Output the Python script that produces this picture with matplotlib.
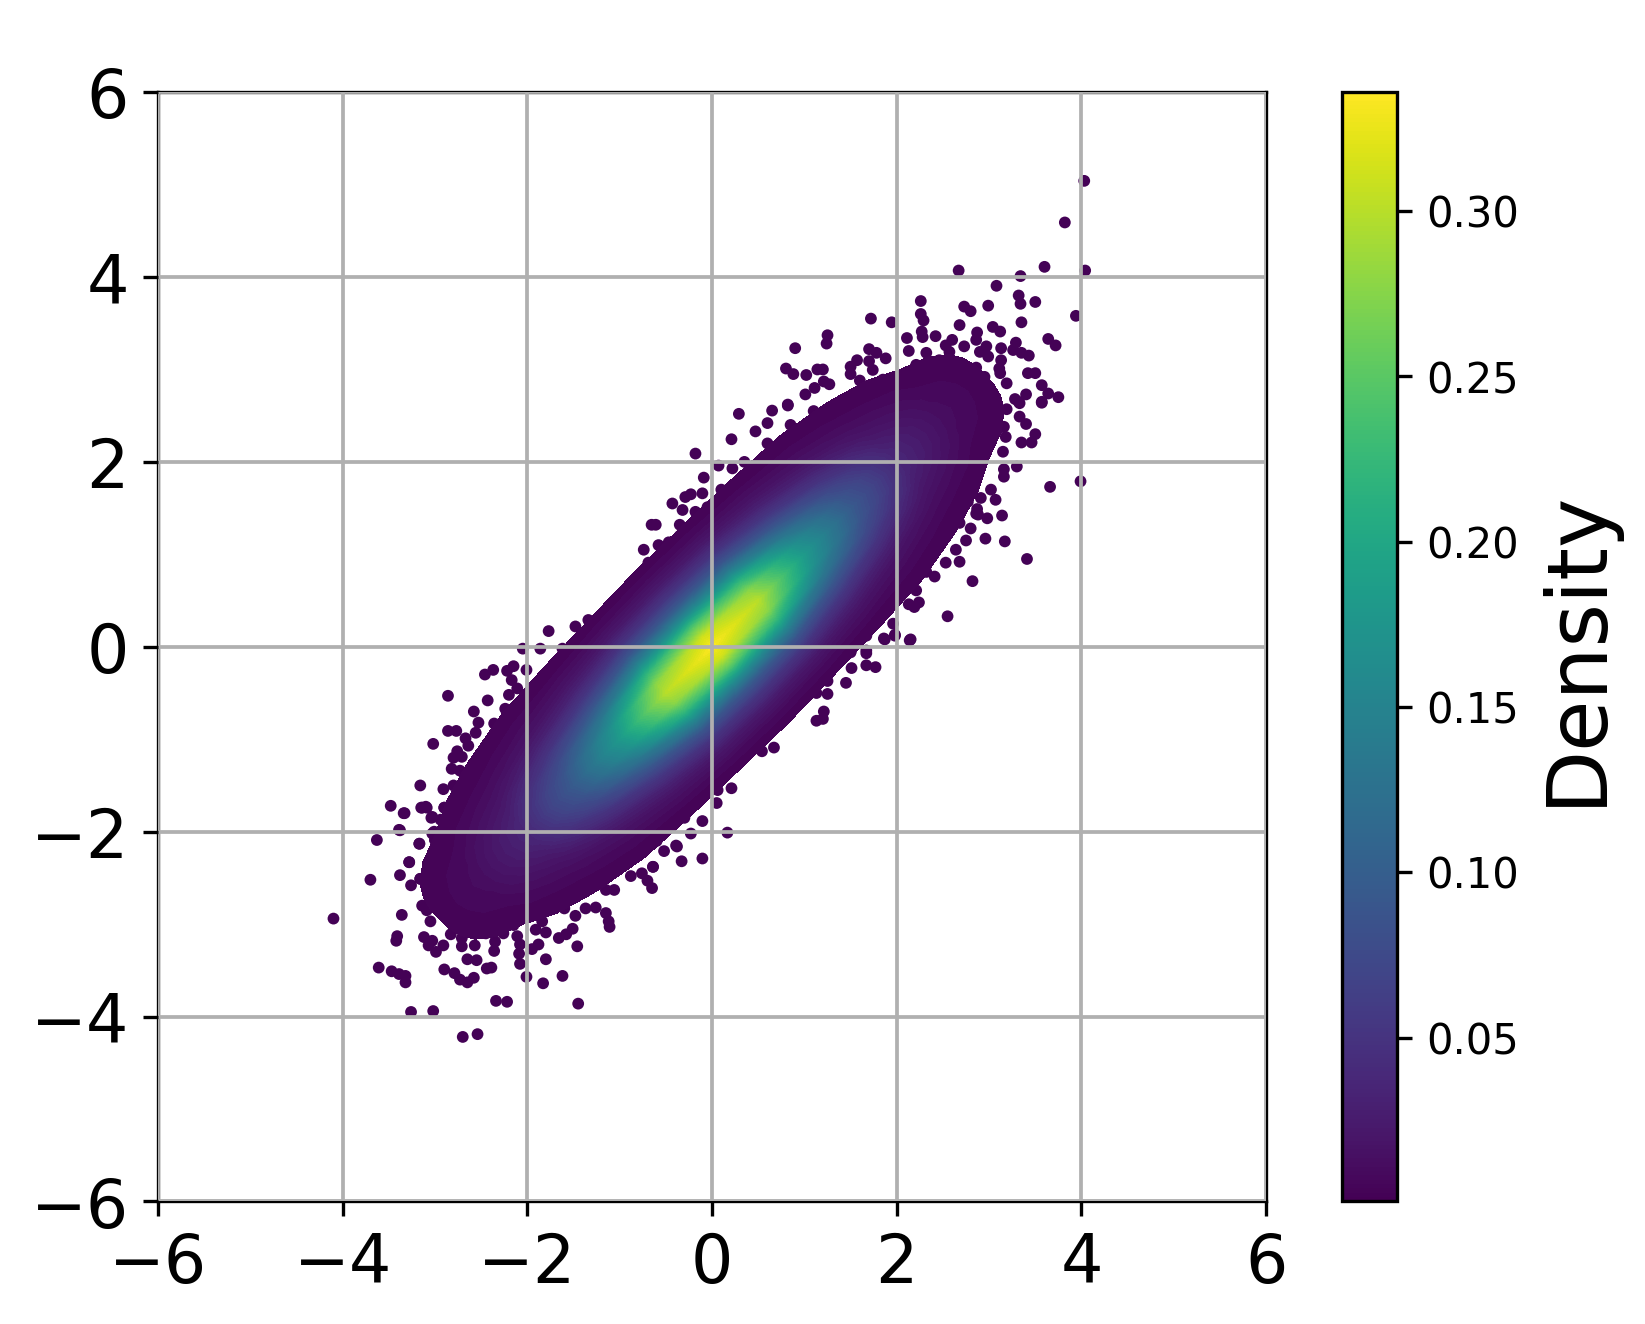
import numpy as np
import matplotlib
matplotlib.use('Agg')
import matplotlib.pyplot as plt
from matplotlib.colors import Normalize
from matplotlib.cm import ScalarMappable

# density read along the long axis (u) and across it (v), x = u - v, y = u + v
u_pos = [-3.5, -3.0, -2.5, -2.0, -1.5, -1.0, -0.5, 0.0, 0.5, 1.0, 1.5, 2.0, 2.5, 3.0, 3.5]
v_half = [0.0, 0.1, 0.2, 0.3, 0.4, 0.5, 0.6, 0.7, 0.8, 0.9, 1.0]
density_half = [
    [.0002, .0002, .0001, .0001, 0, 0, 0, 0, 0, 0, 0],
    [.0008, .0008, .0006, .0004, .0002, .0001, 0, 0, 0, 0, 0],
    [.011, .010, .0082, .0055, .0032, .0016, .0007, .0002, .0001, 0, 0],
    [.036, .034, .027, .019, .012, .0066, .0032, .0015, .0005, .0002, 0],
    [.095, .088, .071, .050, .031, .017, .0085, .0036, .0012, .0004, 0],
    [.180, .167, .133, .092, .056, .031, .015, .0058, .0018, .0006, .0001],
    [.300, .278, .222, .150, .088, .048, .023, .0085, .0020, .0005, .0001],
    [.335, .312, .250, .165, .095, .053, .026, .0100, .0022, .0006, .0001],
    [.300, .278, .222, .150, .088, .048, .023, .0085, .0020, .0005, .0001],
    [.180, .167, .133, .092, .056, .031, .015, .0058, .0018, .0006, .0001],
    [.095, .088, .071, .050, .031, .017, .0085, .0036, .0012, .0004, 0],
    [.036, .034, .027, .019, .012, .0066, .0032, .0015, .0005, .0002, 0],
    [.011, .010, .0082, .0055, .0032, .0016, .0007, .0002, .0001, 0, 0],
    [.0008, .0008, .0006, .0004, .0002, .0001, 0, 0, 0, 0, 0],
    [.0002, .0002, .0001, .0001, 0, 0, 0, 0, 0, 0, 0],
]

# single points around the dense part
edge_pts = [
    (4.03, 5.04), (3.82, 4.59), (2.67, 4.07), (3.60, 4.11), (4.04, 4.07), (3.34, 4.01), (3.08, 3.905),
    (3.32, 3.80), (3.34, 3.71), (3.50, 3.73), (3.94, 3.58), (2.26, 3.74), (2.26, 3.60), (2.29, 3.53),
    (1.72, 3.55), (1.945, 3.51), (1.25, 3.37), (1.24, 3.28), (0.90, 3.23), (2.73, 3.68), (2.80, 3.63),
    (2.99, 3.69), (2.68, 3.48), (3.35, 3.51), (3.04, 3.46), (3.12, 3.41), (3.64, 3.33), (3.72, 3.26),
    (2.27, 3.41), (2.11, 3.34), (2.42, 3.36), (2.28, 3.35), (2.60, 3.32), (2.87, 3.40), (2.53, 3.26),
    (2.73, 3.25), (2.86, 3.32), (2.97, 3.25), (3.13, 3.23), (3.29, 3.29), (3.26, 3.21), (3.43, 3.15),
    (3.35, 3.18), (2.90, 3.19), (2.99, 3.14), (3.13, 3.10), (3.11, 3.01), (3.12, 2.96), (2.86, 3.02),
    (2.95, 2.92), (3.42, 2.96), (3.50, 2.96), (3.19, 2.85), (3.57, 2.83), (3.64, 2.74), (3.75, 2.70),
    (3.40, 2.73), (3.57, 2.65), (3.28, 2.68), (3.32, 2.65), (1.70, 3.22), (1.78, 3.18), (1.57, 3.10),
    (1.70, 3.09), (1.50, 3.03), (1.50, 2.95), (1.74, 2.995), (0.80, 3.01), (0.88, 2.95), (1.02, 2.94),
    (1.14, 3.00), (1.20, 3.00), (1.21, 2.87), (1.27, 2.84), (1.11, 2.80), (1.01, 2.73), (0.82, 2.62),
    (1.60, 2.88), (1.85, 2.89), (2.13, 3.20), (2.32, 3.18), (1.88, 3.12), (2.21, 3.05), (2.46, 3.10),
    (2.57, 3.19),
    (0.29, 2.52), (0.65, 2.555), (0.82, 2.61), (0.21, 2.245), (0.47, 2.33), (0.60, 2.42), (-0.18, 2.09),
    (-0.09, 1.83), (0.07, 1.96), (0.22, 1.93), (-0.43, 1.55), (-0.32, 1.48), (-0.29, 1.62), (-0.23, 1.65),
    (-0.105, 1.66), (-0.655, 1.32), (-0.61, 1.32), (-0.35, 1.32), (-0.18, 1.46), (-0.05, 1.51),
    (-0.58, 1.10), (-0.47, 1.13), (-0.38, 1.16), (-0.74, 1.05), (-0.69, 0.91), (-0.72, 0.79),
    (2.82, 0.71), (2.55, 0.33), (2.15, 0.08), (1.86, 0.09), (1.98, 0.12), (1.96, 0.25), (2.24, 0.48),
    (2.19, 0.43), (2.13, 0.46), (2.21, 0.61), (2.68, 0.92), (2.53, 0.91), (2.64, 1.05), (2.41, 0.76),
    (2.32, 0.81), (2.10, 0.70), (2.75, 1.15), (2.80, 1.28), (2.68, 1.34), (2.86, 1.44), (2.75, 1.57),
    (1.77, 0.27), (1.67, 0.12), (1.67, -0.04), (1.50, -0.06), (1.34, -0.07),
    (3.99, 1.79), (3.66, 1.73), (3.30, 1.95), (3.16, 1.92), (3.16, 1.84), (3.07, 1.59), (3.14, 1.42),
    (2.98, 1.39), (2.88, 1.43), (2.87, 1.49), (2.96, 1.17), (3.17, 1.14), (3.41, 0.95), (3.57, 2.64),
    (3.33, 2.635), (3.19, 2.57), (3.33, 2.49), (3.40, 2.41), (3.50, 2.30), (3.46, 2.21), (3.35, 2.21),
    (3.16, 2.38), (3.18, 2.27), (3.15, 2.11), (3.02, 1.70), (2.91, 1.61), (2.77, 1.57),
    (-4.10, -2.94), (-3.70, -2.52), (-3.63, -2.09), (-3.48, -1.72), (-3.33, -1.80), (-3.38, -1.985),
    (-3.17, -2.13), (-3.28, -2.33), (-3.38, -2.47), (-3.16, -2.51), (-3.26, -2.58), (-3.14, -1.74),
    (-3.09, -1.74), (-2.90, -1.74), (-3.03, -1.84), (-3.00, -2.09), (-3.01, -2.00), (-2.97, -2.27),
    (-3.02, -2.46), (-3.06, -2.63), (-2.98, -2.64), (-2.92, -2.71), (-3.01, -2.76), (-3.14, -2.80),
    (-3.09, -2.85), (-3.36, -2.90), (-3.05, -2.97), (-3.41, -3.13), (-3.42, -3.18), (-3.12, -3.14),
    (-3.03, -3.18), (-3.07, -3.23), (-2.99, -3.30), (-2.91, -3.23), (-2.83, -3.11), (-2.87, -2.92),
    (-2.80, -2.94), (-2.89, -2.83), (-2.71, -3.15), (-2.71, -3.24), (-2.57, -3.23), (-2.65, -3.38),
    (-2.55, -3.39), (-2.36, -3.29), (-2.35, -3.19), (-2.44, -3.48), (-2.39, -3.47), (-2.90, -3.49),
    (-2.79, -3.53), (-2.73, -3.60), (-2.65, -3.63), (-2.58, -3.58), (-3.61, -3.47), (-3.47, -3.51),
    (-3.39, -3.54), (-3.32, -3.56), (-3.32, -3.63), (-3.26, -3.95), (-3.02, -3.94), (-2.70, -4.22),
    (-2.54, -4.19), (-2.34, -3.83), (-2.22, -3.84), (-1.45, -3.86), (-2.01, -3.57), (-1.83, -3.64),
    (-1.62, -3.56), (-1.80, -3.38), (-1.46, -3.24), (-2.08, -3.43), (-2.09, -3.32), (-2.08, -3.22),
    (-2.11, -3.13), (-1.95, -3.27), (-1.88, -3.22), (-1.80, -3.09), (-1.91, -3.06), (-1.98, -2.92),
    (-1.84, -2.97), (-1.66, -3.15), (-1.58, -3.11), (-1.51, -3.05), (-1.11, -3.03), (-1.12, -2.97),
    (-1.15, -2.88), (-1.48, -2.91), (-1.37, -2.83), (-1.26, -2.82), (-1.60, -2.83), (-1.15, -2.63),
    (-1.06, -2.63), (-0.88, -2.48), (-0.76, -2.45), (-0.65, -2.61), (-0.64, -2.38), (-0.70, -2.53),
    (-2.26, -3.10), (-2.15, -3.01), (-2.45, -3.10), (-2.58, -2.98), (-2.67, -2.87), (-2.62, -2.83),
    (-1.77, 0.17), (-2.05, -0.02), (-1.86, -0.02), (-1.62, -0.02), (-1.48, 0.22), (-1.34, 0.29),
    (-2.15, -0.21), (-2.37, -0.25), (-2.46, -0.30), (-2.22, -0.26), (-2.01, -0.25), (-2.17, -0.36),
    (-2.11, -0.45), (-2.20, -0.52), (-2.86, -0.53), (-2.43, -0.58), (-2.24, -0.67), (-2.58, -0.70),
    (-2.53, -0.82), (-2.36, -0.83), (-2.86, -0.91), (-2.77, -0.91), (-2.56, -0.93), (-2.67, -0.99),
    (-2.64, -1.07), (-3.02, -1.05), (-2.76, -1.13), (-2.80, -1.20), (-2.71, -1.19), (-2.53, -1.19),
    (-2.82, -1.32), (-2.73, -1.34), (-3.16, -1.50), (-2.91, -1.54), (-2.80, -1.50), (-3.15, -1.74),
    (-3.10, -1.73), (-2.90, -1.74), (-3.34, -1.80), (-3.04, -1.85), (-2.94, -1.87), (-3.39, -1.98),
    (-3.03, -2.02), (-3.00, -2.09), (-3.17, -2.13), (-3.28, -2.33), (-2.97, -2.27), (-3.16, -2.51),
    (-2.96, -2.42), (-2.85, -1.88), (-2.74, -1.66),
    (0.166, -2.01), (0.06, -1.55), (0.21, -1.53), (0.05, -1.69), (-0.105, -1.885), (-0.23, -2.02),
    (-0.105, -2.29), (-0.33, -2.32), (-0.52, -2.21), (-0.64, -2.38), (-0.39, -2.15),
    (2.14, 0.07), (1.98, 0.13), (1.87, 0.08), (1.67, 0.13), (1.77, -0.22), (1.67, -0.20), (1.51, -0.23),
    (1.67, -0.07), (1.50, -0.05), (1.35, -0.07), (1.45, -0.39), (1.25, -0.51), (1.13, -0.50), (1.21, -0.70),
    (1.20, -0.78), (1.13, -0.80), (1.25, -0.37), (0.83, -0.69), (0.71, -0.79), (0.67, -1.09), (0.54, -1.13),
    (0.60, -0.87), (0.31, -1.23), (-0.38, -2.16),
    # rim of the solid part, both ends and both long sides
    (-2.75, -2.05), (-2.70, -2.30), (-2.75, -2.55), (-2.60, -2.70), (-2.45, -2.85), (-2.30, -2.90),
    (-2.10, -2.85), (-1.90, -2.80), (-2.60, -1.90), (-2.50, -1.60), (-2.60, -2.40), (-2.85, -2.20),
    (-2.40, -2.50), (-2.20, -2.60), (-2.00, -2.60), (-2.50, -2.20), (-2.30, -2.20), (-2.45, -1.40),
    (-2.30, -1.20), (-2.60, -1.50), (-2.65, -1.75),
    (2.60, 2.85), (2.40, 2.95), (2.20, 2.95), (2.00, 2.90), (1.80, 2.80), (2.75, 2.70), (2.85, 2.50),
    (2.90, 2.30), (2.85, 2.10), (2.60, 2.60), (2.40, 2.70), (2.70, 2.30), (2.60, 2.00), (2.75, 1.90),
    (2.10, 2.70), (2.30, 2.55), (2.50, 2.35), (1.60, 2.65), (1.40, 2.55), (2.60, 1.80), (2.45, 1.60),
    (-2.00, -0.70), (-1.75, -0.35), (-1.50, -0.05), (-1.30, 0.25), (-1.05, 0.50), (-0.80, 0.75),
    (-0.55, 1.00), (-0.35, 1.20), (-0.10, 1.40), (0.10, 1.70), (0.35, 2.00), (0.60, 2.20), (0.85, 2.40),
    (1.10, 2.55),
    (-0.90, -2.30), (-0.60, -2.10), (-0.30, -1.85), (0.00, -1.50), (0.20, -1.30), (0.45, -0.95),
    (0.70, -0.65), (0.95, -0.45), (1.20, -0.20), (1.50, 0.10), (1.75, 0.40), (2.00, 0.65), (2.25, 0.95),
    (2.45, 1.25), (2.60, 1.55),
]
edge_density = 0.002

axis_ticks = [-6, -4, -2, 0, 2, 4, 6]
cbar_range = (0.0004, 0.336)

W, H = 1645, 1324
plt.rcParams['font.size'] = 10

fig = plt.figure(figsize=((W + 0.2) / 300, (H + 0.2) / 300))
ax = fig.add_axes([158 / W, 1 - 1201.5 / H, (1266 - 158) / W, (1201.5 - 92.3) / H])
cax = fig.add_axes([1342 / W, 1 - 1201.5 / H, 54.5 / W, (1201.5 - 92.3) / H])

norm = Normalize(*cbar_range)

# table is mirrored over v = 0
half = np.array(density_half)
dens = np.hstack([half[:, :0:-1], half])
v_pos = np.array([-v for v in v_half[:0:-1]] + v_half)
uu, vv = np.meshgrid(u_pos, v_pos, indexing='ij')

levels = np.linspace(0.0018, 0.336, 90)
ax.contourf(uu - vv, uu + vv, dens, levels=levels, cmap='viridis', norm=norm, zorder=1)

# dots go under the filled part so they only show outside it
pts = np.array(edge_pts)
ax.scatter(pts[:, 0], pts[:, 1], c=[edge_density] * len(pts), cmap='viridis', norm=norm, s=8, linewidths=0, zorder=0.9)

ax.set_xlim(-6, 6)
ax.set_ylim(-6, 6)
ax.set_xticks(axis_ticks)
ax.set_yticks(axis_ticks)
ax.tick_params(labelsize=16)
ax.set_axisbelow(False)
ax.grid(True, linewidth=0.9)

cb = fig.colorbar(ScalarMappable(norm=norm, cmap='viridis'), cax=cax)
cb.set_label('Density', fontsize=20)

fig.savefig('out.png', dpi=300)
